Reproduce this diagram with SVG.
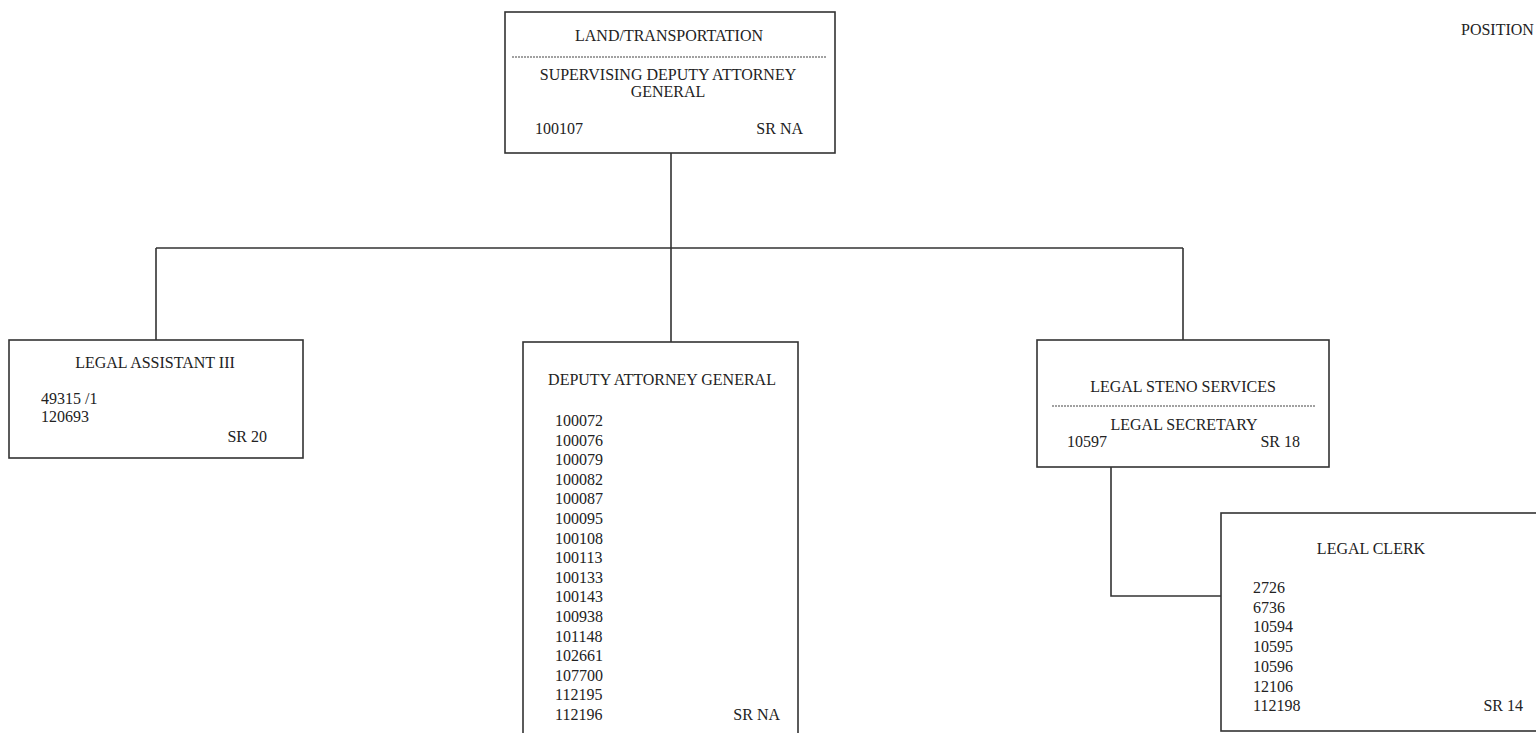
<svg xmlns="http://www.w3.org/2000/svg" width="1536" height="733" viewBox="0 0 1536 733">
<style>
.box{fill:#fff;stroke:#333;stroke-width:1.6}
.ln{fill:none;stroke:#333;stroke-width:1.6}
.dash{stroke:#444;stroke-width:1.2;stroke-dasharray:2 1}
text{font-family:"Liberation Serif","Times New Roman",serif;font-size:16px;fill:#222}
.c{text-anchor:middle}
.e{text-anchor:end}
</style>
<rect width="1536" height="733" fill="#fff"/>
<g id="connectors">
<path class="ln" d="M671 153V248M156 248H1183M156 248V340M671 248V342M1183 248V340"/>
<path class="ln" d="M1111 467V596H1221"/>
</g>
<g id="node-land">
<rect class="box" x="505" y="12" width="330" height="141"/>
<text class="c" x="669" y="41">LAND/TRANSPORTATION</text>
<line class="dash" x1="512" y1="57" x2="826" y2="57"/>
<text class="c" x="668" y="80">SUPERVISING DEPUTY ATTORNEY</text>
<text class="c" x="668" y="97">GENERAL</text>
<text x="535" y="134">100107</text>
<text class="e" x="803" y="134">SR NA</text>
</g>
<g id="node-legal-assistant">
<rect class="box" x="9" y="340" width="294" height="118"/>
<text class="c" x="155" y="368">LEGAL ASSISTANT III</text>
<text x="41" y="404">49315 /1</text>
<text x="41" y="422">120693</text>
<text class="e" x="267" y="442">SR 20</text>
</g>
<g id="node-deputy">
<rect class="box" x="523" y="342" width="275" height="392"/>
<text class="c" x="662" y="385">DEPUTY ATTORNEY GENERAL</text>
<text x="555" y="426">100072</text>
<text x="555" y="445.6">100076</text>
<text x="555" y="465.2">100079</text>
<text x="555" y="484.8">100082</text>
<text x="555" y="504.4">100087</text>
<text x="555" y="524">100095</text>
<text x="555" y="543.6">100108</text>
<text x="555" y="563.2">100113</text>
<text x="555" y="582.8">100133</text>
<text x="555" y="602.4">100143</text>
<text x="555" y="622">100938</text>
<text x="555" y="641.6">101148</text>
<text x="555" y="661.2">102661</text>
<text x="555" y="680.8">107700</text>
<text x="555" y="700.4">112195</text>
<text x="555" y="720">112196</text>
<text class="e" x="780" y="720">SR NA</text>
</g>
<g id="node-steno">
<rect class="box" x="1037" y="340" width="292" height="127"/>
<text class="c" x="1183" y="392">LEGAL STENO SERVICES</text>
<line class="dash" x1="1052" y1="406" x2="1316" y2="406"/>
<text class="c" x="1184" y="430">LEGAL SECRETARY</text>
<text x="1067" y="447">10597</text>
<text class="e" x="1300" y="447">SR 18</text>
</g>
<g id="node-clerk">
<rect class="box" x="1221" y="513" width="330" height="218"/>
<text class="c" x="1371" y="554">LEGAL CLERK</text>
<text x="1253" y="593">2726</text>
<text x="1253" y="612.7">6736</text>
<text x="1253" y="632.4">10594</text>
<text x="1253" y="652.1">10595</text>
<text x="1253" y="671.8">10596</text>
<text x="1253" y="691.5">12106</text>
<text x="1253" y="711">112198</text>
<text class="e" x="1523" y="711">SR 14</text>
</g>
<text x="1461" y="35">POSITION</text>
</svg>
